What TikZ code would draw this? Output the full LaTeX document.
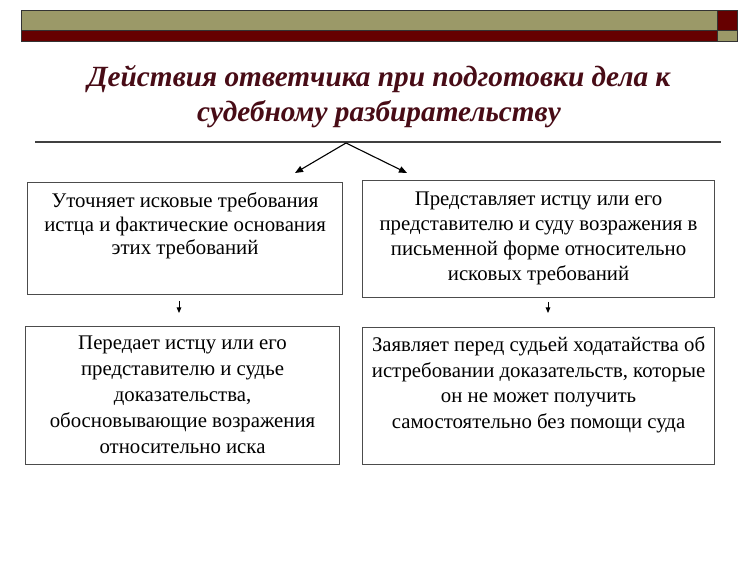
\documentclass[tikz,border=0pt]{standalone}
\usepackage{fontspec}
\setmainfont{Liberation Serif}
\usetikzlibrary{arrows.meta}
\definecolor{oliva}{RGB}{155,153,104}
\definecolor{bordo}{RGB}{102,0,0}
\definecolor{zagolovok}{RGB}{72,12,22}
\tikzset{
  blok/.style={draw=black!70, line width=1.1pt, inner sep=0pt, anchor=north west},
  tekst/.style={anchor=north, align=center, inner sep=0pt},
  strelka/.style={line width=1.1pt, -{Triangle[length=8pt,width=6.5pt]}},
  strelka mal/.style={line width=0.9pt, -{Triangle[length=5.5pt,width=4.5pt]}}
}
\begin{document}
\begin{tikzpicture}[x=1pt,y=-1pt]
      \useasboundingbox (0,0) rectangle (750,561);
      % polosy
      \path[fill=oliva, draw=black!80, line width=0.6pt] (21.3,10.7) rectangle (717.3,30);
      \path[fill=bordo, draw=black!80, line width=0.6pt] (21.3,30) rectangle (717.3,41.7);
      \path[fill=bordo, draw=black!80, line width=0.6pt] (717.3,10.7) rectangle (737.3,30);
      \path[fill=oliva, draw=black!80, line width=0.6pt] (717.3,30) rectangle (737.3,41.7);

      \node[tekst, text=zagolovok, font=\fontsize{29.3}{34.5}\selectfont\bfseries\itshape] (zag) at (379,65.5)
        {Действия ответчика при подготовки дела к\\судебному разбирательству};
      \draw[line width=1.3pt, black!75] (35,142) -- (720.7,142);

      \coordinate (razvilka) at (346,143);
      \coordinate (levo) at (295,173);
      \coordinate (pravo) at (407,173);
      \draw[strelka] (razvilka) -- (levo);
      \draw[strelka] (razvilka) -- (pravo);

      \node[blok, minimum width=315pt, minimum height=112pt] (utochn) at (27,182) {};
      \node[tekst, font=\fontsize{20.8}{23.5}\selectfont] (utochn-t) at ([yshift=-10.7pt]utochn.north)
        {Уточняет исковые требования\\истца и фактические основания\\этих требований};

      \node[blok, minimum width=352pt, minimum height=117pt] (predst) at (362,180) {};
      \node[tekst, font=\fontsize{20.8}{25}\selectfont] (predst-t) at ([yshift=-11.2pt]predst.north)
        {Представляет истцу или его\\представителю и суду возражения в\\письменной форме относительно\\исковых требований};

      \coordinate (l1) at (179,301);
      \coordinate (l2) at (179,313);
      \draw[strelka mal] (l1) -- (l2);
      \coordinate (p1) at (548,302);
      \coordinate (p2) at (548,313);
      \draw[strelka mal] (p1) -- (p2);

      \node[blok, minimum width=314pt, minimum height=138pt] (pered) at (25,326) {};
      \node[tekst, font=\fontsize{20.8}{26}\selectfont] (pered-t) at ([yshift=-9.2pt]pered.north)
        {Передает истцу или его\\представителю и судье\\доказательства,\\обосновывающие возражения\\относительно иска};

      \node[blok, minimum width=352pt, minimum height=137pt] (zayav) at (362,327) {};
      \node[tekst, font=\fontsize{20.8}{25.5}\selectfont] (zayav-t) at ([yshift=-9.7pt]zayav.north)
        {Заявляет перед судьей ходатайства об\\истребовании доказательств, которые\\он не может получить\\самостоятельно без помощи суда};
\end{tikzpicture}
\end{document}
